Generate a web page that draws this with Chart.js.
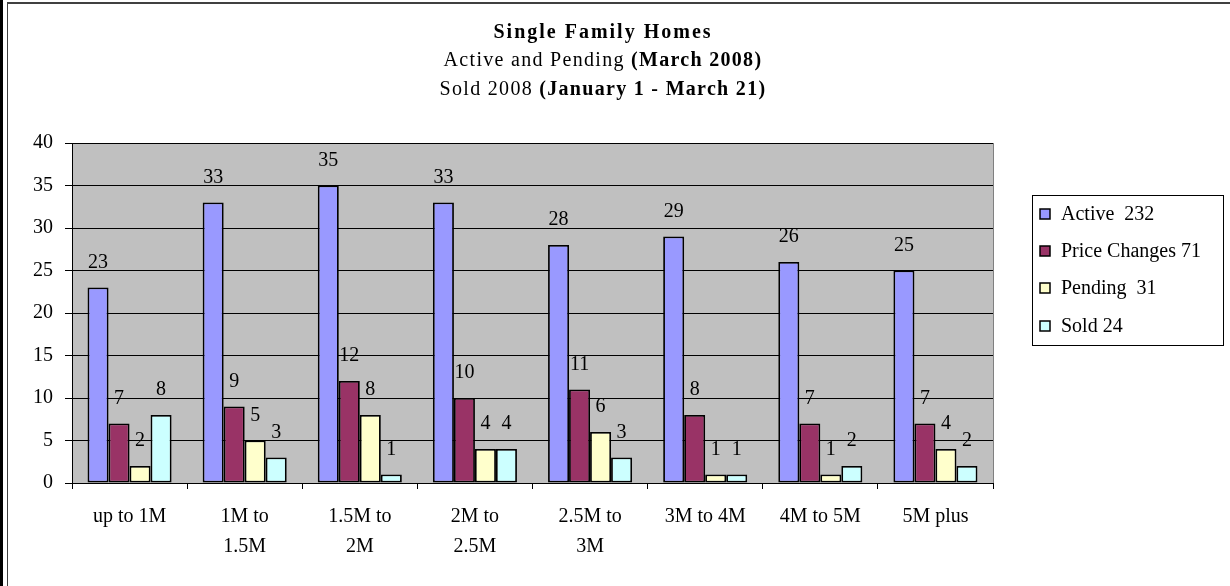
<!DOCTYPE html>
<html>
<head>
<meta charset="utf-8">
<script src="https://cdn.jsdelivr.net/npm/chart.js@4.4.0/dist/chart.umd.min.js"></script>
<style>
  html, body { margin: 0; padding: 0; background: #fff; }
  #wrap { position: relative; width: 1230px; height: 586px; }
</style>
</head>
<body>
<div id="wrap"><canvas id="chart" width="1230" height="586"></canvas></div>
<script>
// data
const categories = ['up to 1M', ['1M to', '1.5M'], ['1.5M to', '2M'], ['2M to', '2.5M'],
  ['2.5M to', '3M'], '3M to 4M', '4M to 5M', '5M plus'];
const seriesNames = ['Active  232', 'Price Changes 71', 'Pending  31', 'Sold 24'];
const active = [23, 33, 35, 33, 28, 29, 26, 25];
const priceChanges = [7, 9, 12, 10, 11, 8, 7, 7];
const pending = [2, 5, 8, 4, 6, 1, 1, 4];
const sold = [8, 3, 1, 4, 3, 1, 2, 2];
const yTicks = [0, 5, 10, 15, 20, 25, 30, 35, 40];

const colors = ['#9999FF', '#993366', '#FFFFCC', '#CCFFFF'];
const FONT = "'Liberation Serif', 'Times New Roman', serif";

const titleLines = [
  [['Single Family Homes', true]],
  [['Active and Pending ', false], ['(March 2008)', true]],
  [['Sold 2008 ', false], ['(January 1 - March 21)', true]]
];

// gray plot background + frame lines round the chart
const backdrop = {
  id: 'backdrop',
  beforeDraw(chart) {
    const { ctx, chartArea: a } = chart;
    ctx.save();
    ctx.fillStyle = '#C0C0C0';
    ctx.fillRect(a.left, a.top, a.right - a.left, a.bottom - a.top);
    ctx.strokeStyle = '#808080';
    ctx.lineWidth = 1;
    ctx.strokeRect(a.left + 0.5, a.top + 0.5, a.right - a.left, a.bottom - a.top);
    // outer frame
    ctx.fillStyle = '#000';
    ctx.fillRect(0, 0, 3, chart.height);
    ctx.fillStyle = '#404040';
    ctx.fillRect(7, 2, 1, chart.height);
    ctx.fillRect(7, 2, chart.width, 2);
    ctx.restore();
  }
};

const titlePlugin = {
  id: 'mixedTitle',
  afterDraw(chart) {
    const ctx = chart.ctx;
    const cx = 603, ys = [33, 61, 90], spacing = ['2px', '1.3px', '1.3px'];
    ctx.save();
    ctx.fillStyle = '#000';
    ctx.textBaseline = 'middle';
    ctx.textAlign = 'left';
    titleLines.forEach((runs, i) => {
      ctx.letterSpacing = spacing[i];
      let total = 0;
      runs.forEach(([t, b]) => {
        ctx.font = (b ? 'bold ' : '') + '20px ' + FONT;
        total += ctx.measureText(t).width;
      });
      let x = cx - total / 2;
      runs.forEach(([t, b]) => {
        ctx.font = (b ? 'bold ' : '') + '20px ' + FONT;
        ctx.fillText(t, x, ys[i]);
        x += ctx.measureText(t).width;
      });
    });
    ctx.restore();
  }
};

const valueLabels = {
  id: 'valueLabels',
  afterDatasetsDraw(chart) {
    const ctx = chart.ctx;
    ctx.save();
    ctx.font = '20px ' + FONT;
    ctx.fillStyle = '#000';
    ctx.textAlign = 'center';
    ctx.textBaseline = 'alphabetic';
    chart.data.datasets.forEach((ds, i) => {
      chart.getDatasetMeta(i).data.forEach((bar, j) => {
        ctx.fillText(String(ds.data[j]), bar.x, bar.y - 20);
      });
    });
    ctx.restore();
  }
};

const boxLegend = {
  id: 'boxLegend',
  afterDraw(chart) {
    const ctx = chart.ctx;
    const left = 1032, top = 195, right = 1223, bottom = 345;
    const rows = [214, 251, 288, 326];
    ctx.save();
    ctx.fillStyle = '#fff';
    ctx.fillRect(left, top, right - left, bottom - top);
    ctx.strokeStyle = '#000';
    ctx.lineWidth = 1;
    ctx.strokeRect(left + 0.5, top + 0.5, right - left, bottom - top);
    ctx.font = '20px ' + FONT;
    ctx.textBaseline = 'middle';
    ctx.textAlign = 'left';
    chart.data.datasets.forEach((ds, i) => {
      const y = rows[i];
      ctx.fillStyle = ds.backgroundColor;
      ctx.fillRect(1040, y - 5, 10, 10);
      ctx.strokeStyle = '#000';
      ctx.lineWidth = 1.5;
      ctx.strokeRect(1040, y - 5, 10, 10);
      ctx.fillStyle = '#000';
      ctx.fillText(ds.label, 1061, y + 1);
    });
    ctx.restore();
  }
};

const seriesData = [active, priceChanges, pending, sold];

new Chart(document.getElementById('chart'), {
  type: 'bar',
  data: {
    labels: categories,
    datasets: seriesData.map((d, i) => ({
      label: seriesNames[i],
      data: d,
      backgroundColor: colors[i],
      borderColor: '#000',
      borderWidth: 1.8,
      borderSkipped: false,
      categoryPercentage: 0.73,
      barPercentage: 1.0
    }))
  },
  options: {
    responsive: false,
    animation: false,
    layout: { padding: { top: 143, left: 0, right: 237, bottom: 0 } },
    plugins: {
      legend: { display: false },
      title: { display: false },
      tooltip: { enabled: false }
    },
    scales: {
      x: {
        afterFit(scale) { scale.height = 103; },
        grid: { drawOnChartArea: false, drawTicks: true, tickLength: 6, color: '#000', offset: true },
        border: { color: '#000', width: 1 },
        ticks: {
          color: '#000',
          padding: 13,
          maxRotation: 0,
          autoSkip: false,
          font: { family: FONT, size: 20, lineHeight: 1.5 }
        }
      },
      y: {
        min: yTicks[0],
        max: yTicks[yTicks.length - 1],
        afterFit(scale) { scale.width = 72; },
        afterBuildTicks(scale) { scale.ticks = yTicks.map(v => ({ value: v })); },
        grid: { color: '#000', tickLength: 7, drawTicks: true },
        border: { color: '#000', width: 1 },
        ticks: {
          color: '#000',
          padding: 12,
          font: { family: FONT, size: 20 }
        }
      }
    }
  },
  plugins: [backdrop, valueLabels, titlePlugin, boxLegend]
});
</script>
</body>
</html>
